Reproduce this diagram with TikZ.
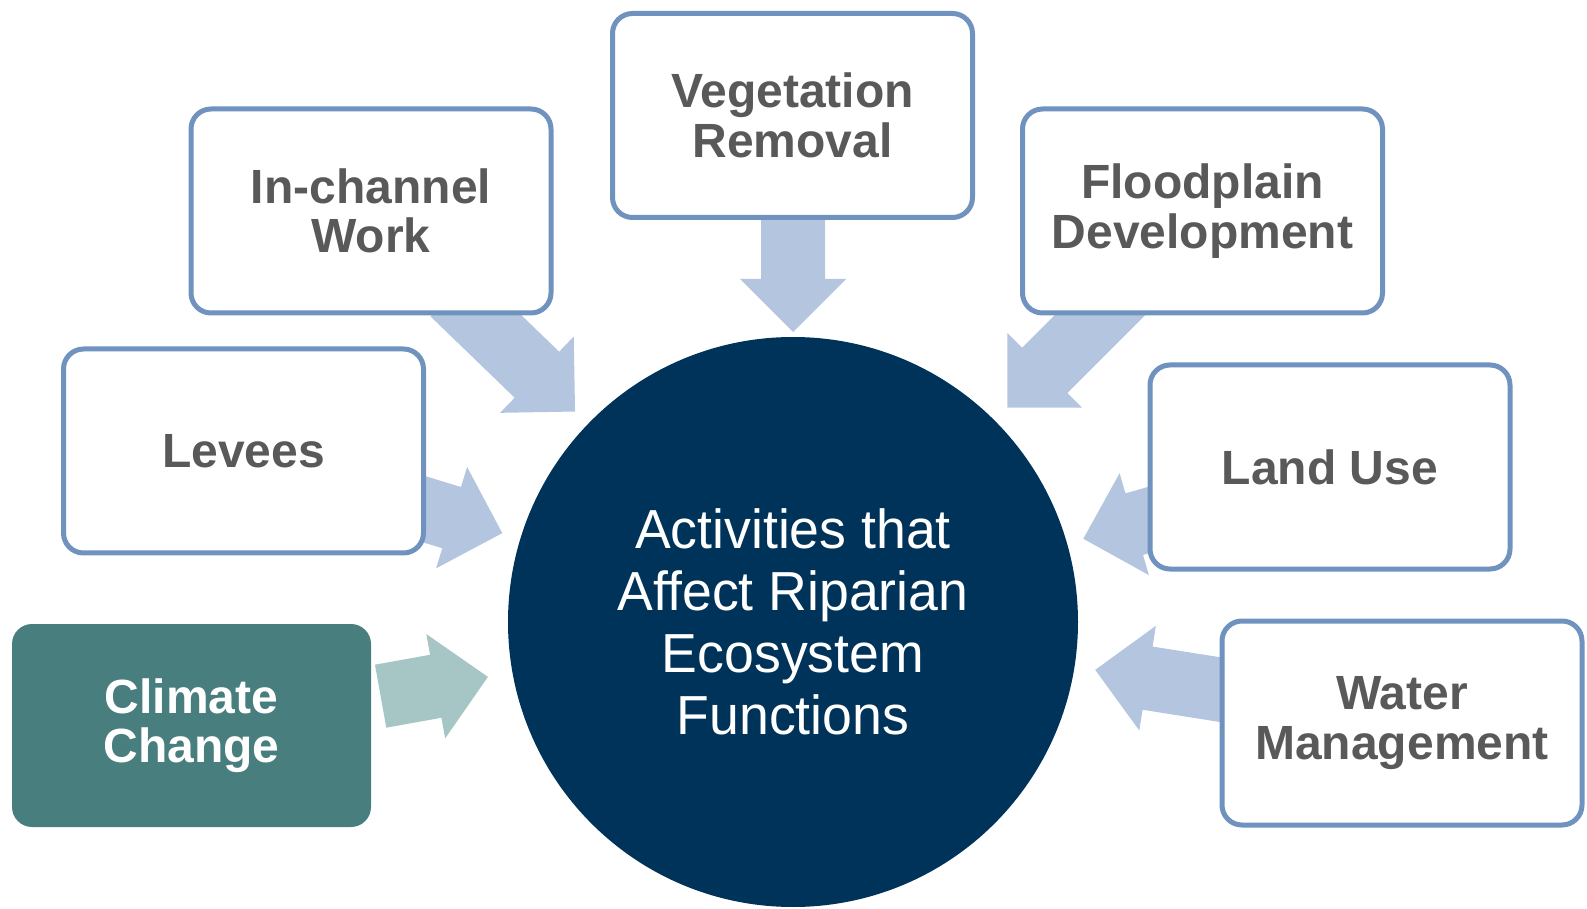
\documentclass[tikz,border=0pt]{standalone}
\usepackage{fontspec}
\setmainfont{Liberation Sans}
\newfontfamily\hubfont[FakeStretch=0.975]{Liberation Sans}
\definecolor{boxline}{RGB}{112,146,190}
\definecolor{feedfill}{RGB}{180,197,224}
\definecolor{hubblue}{RGB}{0,51,89}
\definecolor{tealbox}{RGB}{72,126,126}
\definecolor{tealfeed}{RGB}{165,198,196}
\definecolor{labelgray}{RGB}{89,89,89}
% block arrow pointing at the hub: #1 fill, #2 hub node, #3 angle, #4 tip distance, #5 length
\newcommand\feedarrow[5]{%
  \fill[#1, shift={(#2.center)}, rotate=#3]
    (#4,0) -- ++(53,53) -- ++(0,-21) -- ++(#5-53,0) -- ++(0,-64)
    -- ++(-#5+53,0) -- ++(0,-21) -- cycle;}
\begin{document}
\begin{tikzpicture}[x=0.5pt,y=-0.5pt,
  activity/.style={draw=boxline, line width=2.5pt, rounded corners=10pt,
    fill=white, minimum width=180pt, minimum height=102pt, inner sep=0pt,
    align=center, text=labelgray, font=\bfseries\fontsize{24}{24.8}\selectfont},
  climatebox/.style={activity, draw=none, fill=tealbox, text=white,
    minimum width=179.5pt, minimum height=101.5pt},
  hubnode/.style={circle, fill=hubblue, minimum size=285pt, inner sep=0pt,
    align=center, text=white, font=\hubfont\fontsize{27.5}{30.9}\selectfont}]
\useasboundingbox (0,0) rectangle (1587,909);

% central hub
\node[hubnode] (hub) at (793,622) {Activities that\\Affect Riparian\\Ecosystem\\Functions};

% arrows converging on the hub
\feedarrow{feedfill}{hub}{90}{290}{130}
\feedarrow{feedfill}{hub}{136}{303}{170}
\feedarrow{feedfill}{hub}{45}{303}{170}
\feedarrow{feedfill}{hub}{163}{304}{170}
\feedarrow{feedfill}{hub}{16}{302}{170}
\feedarrow{feedfill}{hub}{-9}{306}{170}
\feedarrow{tealfeed}{hub}{190.2}{310}{109}

% activity boxes
\node[activity] (veg) at (792.5,115.5) {Vegetation\\Removal};
\node[activity] (chan) at (371,211) {In-channel\\Work};
\node[activity] (flood) at (1202.5,211) {Floodplain\\Development};
\node[activity] (levee) at (243.5,451) {Levees};
\node[activity] (land) at (1330,467) {Land Use};
\node[activity] (water) at (1402,723) {Water\\Management};
\node[climatebox] (climate) at (191.5,725.5) {Climate\\Change};
\end{tikzpicture}
\end{document}
